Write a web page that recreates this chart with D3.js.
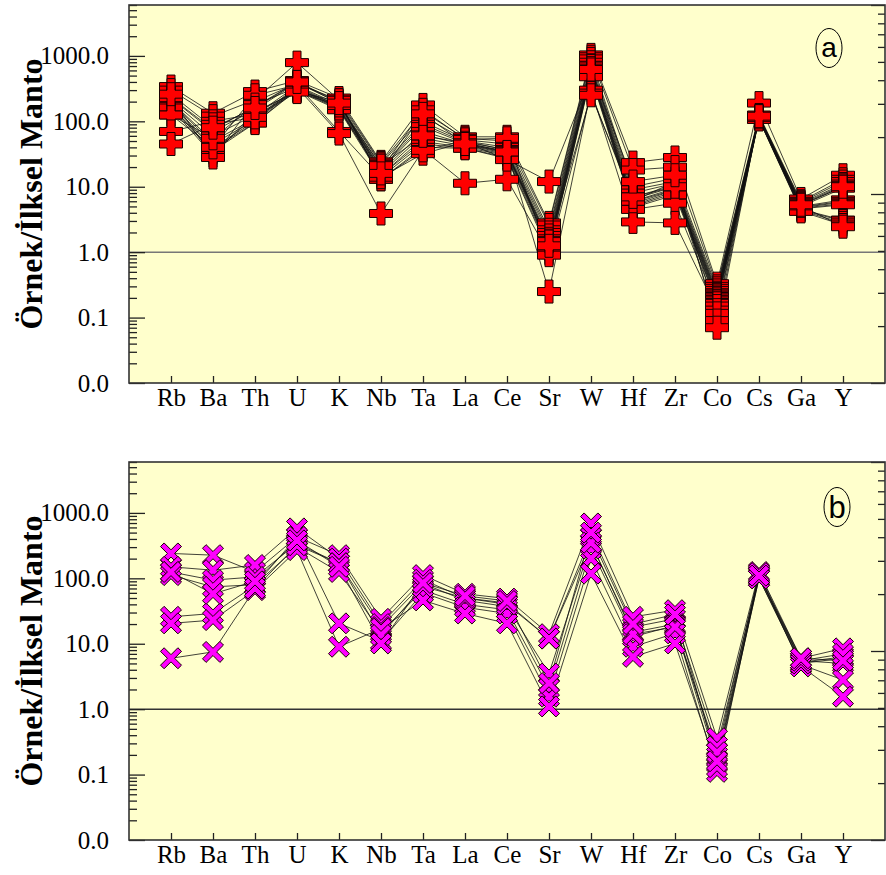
<!DOCTYPE html>
<html>
<head>
<meta charset="utf-8">
<script src="https://cdn.jsdelivr.net/npm/d3@7"></script>
<style>
  body { margin: 0; background: #fff; }
  svg { display: block; }
  .tick text { font-family: "Liberation Serif", "Times New Roman", serif; font-size: 25px; fill: #000; }
  .tick line { stroke: #222; stroke-width: 1.3; }
</style>
</head>
<body>
<svg width="886" height="875"></svg>
<script>
const elements = ["Rb", "Ba", "Th", "U", "K", "Nb", "Ta", "La", "Ce", "Sr", "W", "Hf", "Zr", "Co", "Cs", "Ga", "Y"];
const yTicks = [0.01, 0.1, 1, 10, 100, 1000];
const yTitle = "Örnek/İlksel Manto";

// one row per sample, values in the order of `elements`
const panelA = [
  [340, 133, 285, 420, 227, 24, 178, 58, 58, 2.8, 1036, 23.4, 28, 0.33, 190, 6.5, 15],
  [300, 120, 212, 790, 212, 23, 140, 55, 50, 2.6, 970, 18, 20, 0.30, 125, 6.0, 13],
  [230, 75, 168, 400, 200, 22, 120, 52, 45, 2.2, 900, 10, 13.5, 0.28, 120, 5.8, 12],
  [225, 70, 150, 390, 190, 20, 99, 50, 40, 2.0, 800, 9, 12, 0.26, 118, 5.6, 11],
  [210, 60, 125, 350, 180, 19, 90, 48, 37, 1.8, 720, 8, 11.3, 0.24, 117, 5.4, 10.5],
  [200, 50, 110, 340, 170, 18, 83, 46, 35, 1.6, 700, 7, 10.5, 0.23, 116, 5.2, 10],
  [200, 45, 105, 330, 165, 17, 70, 45, 33, 1.5, 650, 6.5, 10, 0.22, 115, 5.0, 9.5],
  [190, 40, 100, 320, 160, 16, 62, 44, 32, 1.4, 600, 6, 9.5, 0.21, 114, 5.0, 6.3],
  [180, 38, 95, 310, 159, 15, 55, 42, 31, 1.3, 575, 5.9, 9, 0.20, 113, 4.9, 6.0],
  [170, 35, 94, 300, 155, 15, 49, 40, 30, 1.2, 560, 5.5, 8.9, 0.19, 112, 4.8, 5.8],
  [170, 33, 120, 290, 150, 14, 45, 39, 28, 1.1, 540, 5.2, 8.5, 0.18, 111, 4.7, 5.5],
  [160, 30, 140, 285, 200, 13, 40, 38.7, 27, 1.0, 520, 5, 8, 0.17, 110, 4.6, 5.3],
  [230, 28, 200, 380, 210, 13, 37, 11.3, 13, 0.95, 500, 4.8, 7.5, 0.165, 110, 4.5, 3.1],
  [125, 40, 250, 360, 70, 14, 32, 48, 26, 12, 480, 4.5, 5.6, 0.15, 109, 4.4, 3.0],
  [125, 55, 180, 330, 65, 3.9, 36, 50, 36, 0.25, 300, 2.9, 2.8, 0.13, 108, 4.3, 2.8],
  [70, 100, 130, 300, 180, 18, 150, 53, 55, 0.9, 270, 6, 12, 0.116, 107, 4.2, 2.6],
  [45, 90, 115, 280, 175, 21, 60, 47, 34, 1.45, 250, 7, 10, 0.09, 115, 5.1, 2.45],
  [260, 80, 160, 400, 190, 16, 130, 45, 34, 1.25, 620, 12, 15, 0.07, 120, 5.3, 10]
];

const panelB = [
  [240, 226, 125, 430, 226, 24, 112, 58, 49, 14, 690, 25.8, 32.6, 0.36, 125, 6.0, 8.5],
  [150, 133, 160, 580, 200, 20, 95, 50, 42, 12, 430, 18, 24, 0.27, 110, 5.2, 6.3],
  [125, 94, 105, 340, 170, 18, 83, 46, 37, 3.5, 340, 15, 20, 0.19, 105, 5.5, 5.0],
  [112, 74, 80, 300, 125, 15, 66, 40, 33, 2.1, 285, 12.8, 19, 0.15, 100, 4.8, 2.8],
  [25.8, 29, 78, 430, 20.5, 11, 60, 36, 29, 1.55, 200, 9, 14.4, 0.11, 115, 4.5, 1.55],
  [20.5, 23, 66, 270, 9, 17, 46, 29, 20.5, 1.1, 118, 6.3, 10.1, 0.13, 100, 5.0, 6.0],
  [6, 7.5, 70, 320, 170, 13.6, 75, 50, 40, 12, 350, 14, 18, 0.22, 120, 5.5, 7.0],
  [125, 58, 90, 380, 150, 10.1, 85, 54, 45, 2.5, 500, 20, 28, 0.16, 110, 6.0, 5.5]
];

const svg = d3.select("svg");
const plotW = 756, plotH = 378;

// marker outlines
const h = 11.5, w = 4;
const plusPath = d3.line()([[-w,-h],[w,-h],[w,-w],[h,-w],[h,w],[w,w],[w,h],[-w,h],[-w,w],[-h,w],[-h,-w],[-w,-w]]) + "Z";
const e = 10.5, d = 3.6;
const crossPath = d3.line()([[-e,-e+d],[-e+d,-e],[0,-d],[e-d,-e],[e,-e+d],[d,0],[e,e-d],[e-d,e],[0,d],[-e+d,e],[-e,e-d],[-d,0]]) + "Z";

function minorTicks(lo, hi, max) {
  const out = [];
  for (let p = lo; p < hi; p++) {
    for (let k = 2; k <= 9; k++) {
      const v = +(k * Math.pow(10, p)).toPrecision(6);
      if (v <= max) out.push(v);
    }
  }
  return out;
}

function drawPanel(cfg) {
  const left = cfg.left, top = cfg.top, right = left + plotW, bottom = top + plotH;
  const g = svg.append("g");

  const x = d3.scalePoint().domain(elements).range([left, right]).padding(1);
  const y = d3.scaleLog().domain([0.01, 6000]).range([bottom, top]);
  const yr = d3.scaleLog().domain([0.1, 10]).range([bottom, top]);

  g.append("rect")
    .attr("x", left).attr("y", top)
    .attr("width", plotW).attr("height", plotH)
    .attr("fill", "#ffffcc");

  g.append("line")
    .attr("x1", left).attr("x2", right)
    .attr("y1", y(1)).attr("y2", y(1))
    .attr("stroke", cfg.refColor).attr("stroke-width", 1.5);

  const line = d3.line()
    .x((v, i) => x(elements[i]))
    .y(v => y(v));

  g.append("g")
    .selectAll("path")
    .data(cfg.data)
    .join("path")
    .attr("d", line)
    .attr("fill", "none")
    .attr("stroke", "#111")
    .attr("stroke-width", 0.8);

  const pts = cfg.data.flatMap(row => row.map((v, i) => ({ el: elements[i], v })));
  g.append("g")
    .selectAll("path")
    .data(pts)
    .join("path")
    .attr("d", cfg.shape)
    .attr("transform", p => `translate(${x(p.el)},${y(p.v)})`)
    .attr("fill", cfg.fill)
    .attr("stroke", "#1a0000")
    .attr("stroke-width", 1);

  // left axis: inward ticks
  g.append("g")
    .attr("transform", `translate(${left},0)`)
    .call(d3.axisLeft(y).tickValues(minorTicks(-2, 4, 6000)).tickFormat("").tickSize(-8))
    .call(a => a.select(".domain").remove());
  g.append("g")
    .attr("transform", `translate(${left},0)`)
    .call(d3.axisLeft(y).tickValues(yTicks).tickFormat(d3.format(".1f")).tickSize(-16).tickPadding(20))
    .call(a => a.select(".domain").remove());

  // right axis, unlabeled
  g.append("g")
    .attr("transform", `translate(${right},0)`)
    .call(d3.axisRight(yr).tickValues(minorTicks(-1, 1, 10)).tickFormat("").tickSize(-7))
    .call(a => a.select(".domain").remove());
  g.append("g")
    .attr("transform", `translate(${right},0)`)
    .call(d3.axisRight(yr).tickValues([0.1, 1, 10]).tickFormat("").tickSize(-14))
    .call(a => a.select(".domain").remove());

  g.append("g")
    .attr("transform", `translate(0,${bottom})`)
    .call(d3.axisBottom(x).tickSize(-7).tickPadding(5))
    .call(a => a.select(".domain").remove());

  g.append("rect")
    .attr("x", left).attr("y", top)
    .attr("width", plotW).attr("height", plotH)
    .attr("fill", "none")
    .attr("stroke", "#333").attr("stroke-width", 1.6);

  g.append("text")
    .attr("transform", `translate(42,${(top + bottom) / 2}) rotate(-90)`)
    .attr("text-anchor", "middle")
    .attr("font-family", "Liberation Serif, Times New Roman, serif")
    .attr("font-weight", "bold")
    .attr("font-size", 32)
    .text(yTitle);

  g.append("ellipse")
    .attr("cx", cfg.tagX).attr("cy", cfg.tagY)
    .attr("rx", 13).attr("ry", 19.5)
    .attr("fill", "none").attr("stroke", "#000").attr("stroke-width", 1);
  g.append("text")
    .attr("x", cfg.tagX).attr("y", cfg.tagY + cfg.tagDy)
    .attr("text-anchor", "middle")
    .attr("font-family", "Liberation Sans, Arial, sans-serif")
    .attr("font-size", cfg.tagSize)
    .text(cfg.tag);
}

drawPanel({ data: panelA, left: 129, top: 5, shape: plusPath, fill: "#ff0000", refColor: "#777",
  tag: "a", tagX: 829, tagY: 48, tagDy: 9, tagSize: 28 });
drawPanel({ data: panelB, left: 129, top: 462, shape: crossPath, fill: "#ff00ff", refColor: "#333",
  tag: "b", tagX: 837, tagY: 507, tagDy: 11, tagSize: 31 });
</script>
</body>
</html>
